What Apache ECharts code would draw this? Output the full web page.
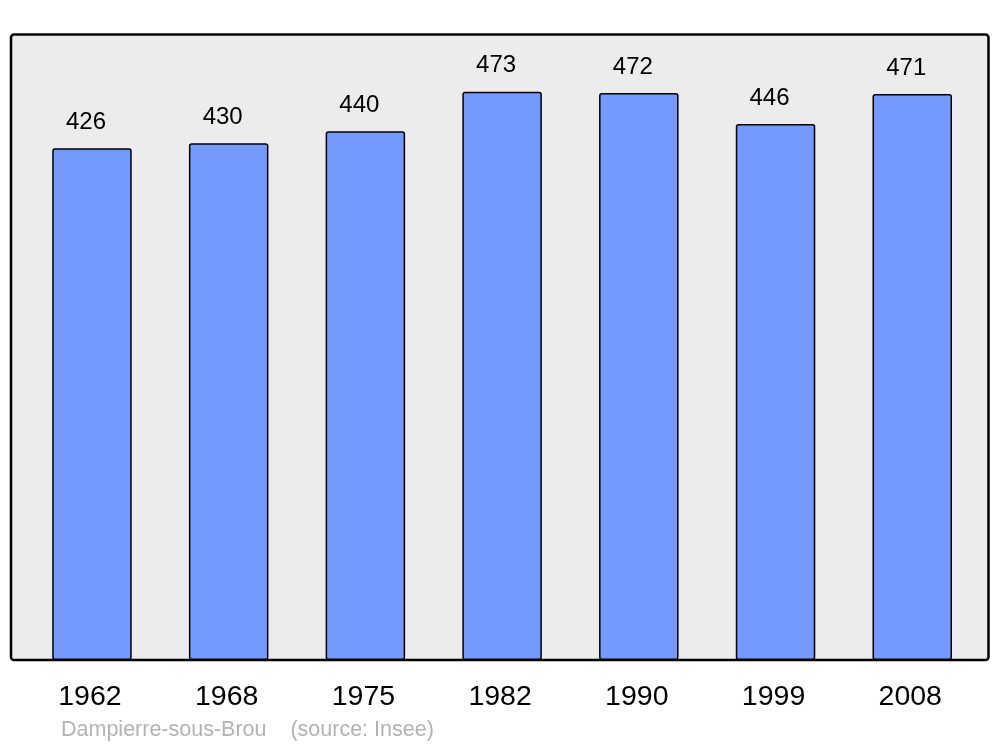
<!DOCTYPE html>
<html>
<head>
<meta charset="utf-8">
<style>html,body{margin:0;padding:0;background:#fff}#c{width:1000px;height:747px}</style>
<script src="https://cdn.jsdelivr.net/npm/echarts@6/dist/echarts.min.js"></script>
</head>
<body>
<div id="c"></div>
<script>
const years = ['1962','1968','1975','1982','1990','1999','2008'];
const population = [426, 430, 440, 473, 472, 446, 471];
const footer = 'Dampierre-sous-Brou    (source: Insee)';

const chart = echarts.init(document.getElementById('c'), null, {renderer: 'canvas'});
chart.setOption({
  animation: false,
  backgroundColor: '#ffffff',
  textStyle: {fontFamily: 'Liberation Sans, Arial, sans-serif'},
  graphic: [
    {type: 'rect', z: -10,
     shape: {x: 11, y: 34.5, width: 977.5, height: 625.5, r: 3},
     style: {fill: '#ececec', stroke: '#000', lineWidth: 2.5}},
    {type: 'text', x: 61, y: 730.5,
     style: {text: footer, fill: '#b3b3b3', verticalAlign: 'middle',
             font: '21.5px "Liberation Sans", Arial, sans-serif'}}
  ],
  grid: {left: 23.6, right: 19.4, top: 34, bottom: 87, containLabel: false},
  xAxis: {
    type: 'category', data: years,
    axisLine: {show: false}, axisTick: {show: false},
    axisLabel: {color: '#000', fontSize: 28.5, margin: 23, padding: [0, 4, 0, 0],
                fontFamily: 'Liberation Sans, Arial, sans-serif'}
  },
  yAxis: {type: 'value', min: 0, max: 521, show: false, splitLine: {show: false}},
  series: [{
    type: 'bar', data: population, barWidth: 79.5,
    itemStyle: {color: '#7499ff', borderColor: '#000', borderWidth: 1.5, borderRadius: 2},
    label: {show: true, position: 'top', distance: 14, offset: [-6, 0], color: '#000', fontSize: 24,
            fontFamily: 'Liberation Sans, Arial, sans-serif'},
    z: 2
  }]
});
</script>
</body>
</html>
